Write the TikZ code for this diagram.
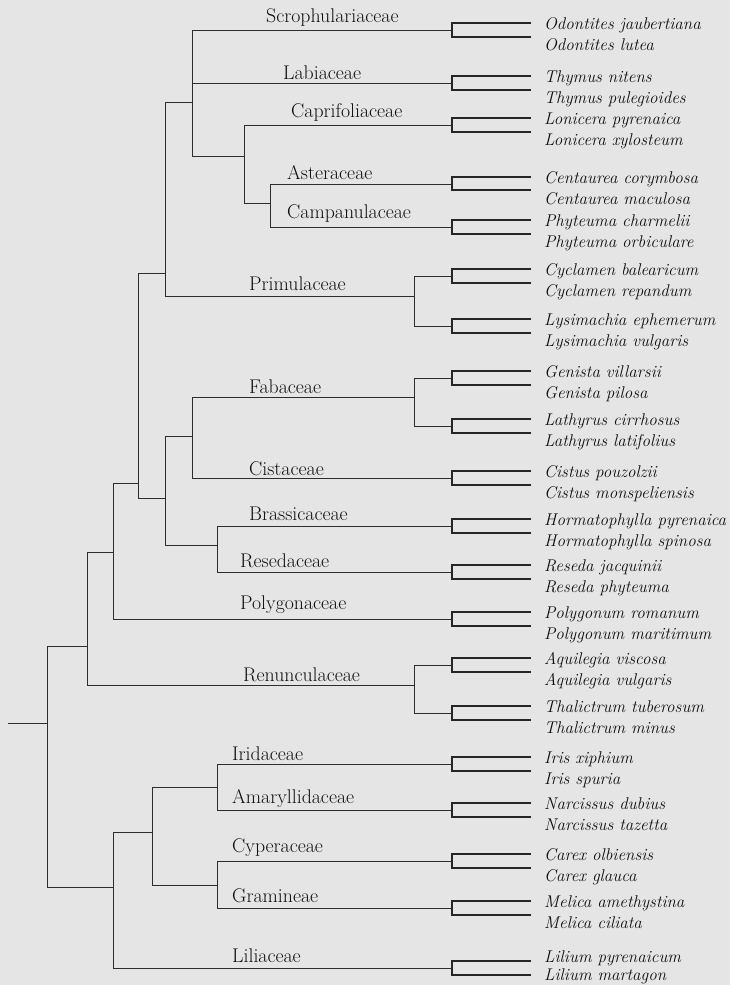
\documentclass[tikz,border=0pt]{standalone}
\definecolor{bg}{RGB}{229,229,229}
\definecolor{ln}{RGB}{45,45,45}
\definecolor{tx}{RGB}{15,15,15}
\tikzset{
  tree/.style={draw=ln, line width=0.9pt},
  leafline/.style={draw=ln!85!black, line width=1.6pt},
  fam/.style={anchor=base west, inner sep=0pt, text=tx, font=\fontsize{19.8}{22}\selectfont},
  spec/.style={anchor=base west, inner sep=0pt, text=tx, font=\fontsize{17}{19}\selectfont\itshape},
}
\newcommand\lpairb[8]{%
  \coordinate (#1) at (452,#2);
  \coordinate (#1a) at (531,#3);
  \coordinate (#1b) at (531,#4);
  \draw[leafline] (#1a) -| (#1) |- (#1b);
  \node[spec] (#1ta) at (544,#7) {#5};
  \node[spec] (#1tb) at (544,#8) {#6};
}
\newcommand\lpair[6]{\lpairb{#1}{#2}{#3}{#4}{#5}{#6}{#2-1}{#2+20}}
\begin{document}
\begin{tikzpicture}[x=1pt,y=-1pt]
\fill[bg] (0,0) rectangle (730,985);
\useasboundingbox (0,0) rectangle (730,985);

% leaf pairs
\lpair{odo}{30}{23}{37}{Odontites jaubertiana}{Odontites lutea}
\lpair{thy}{83}{76}{90}{Thymus nitens}{Thymus pulegioides}
\lpair{lon}{125}{118}{132}{Lonicera pyrenaica}{Lonicera xylosteum}
\lpair{cen}{184}{177}{190}{Centaurea corymbosa}{Centaurea maculosa}
\lpair{phy}{227}{220}{234}{Phyteuma charmelii}{Phyteuma orbiculare}
\lpair{cyc}{276}{269}{283}{Cyclamen balearicum}{Cyclamen repandum}
\lpair{lys}{326}{319}{333}{Lysimachia ephemerum}{Lysimachia vulgaris}
\lpair{gen}{378}{371}{385}{Genista villarsii}{Genista pilosa}
\lpair{lat}{426}{419}{433}{Lathyrus cirrhosus}{Lathyrus latifolius}
\lpair{cis}{478}{471}{485}{Cistus pouzolzii}{Cistus monspeliensis}
\lpair{hor}{526}{519}{533}{Hormatophylla pyrenaica}{Hormatophylla spinosa}
\lpair{res}{572}{565}{579}{Reseda jacquinii}{Reseda phyteuma}
\lpair{pol}{619}{612}{626}{Polygonum romanum}{Polygonum maritimum}
\lpair{aqu}{665}{658}{672}{Aquilegia viscosa}{Aquilegia vulgaris}
\lpair{tha}{713}{706}{720}{Thalictrum tuberosum}{Thalictrum minus}
\lpair{iri}{764}{757}{771}{Iris xiphium}{Iris spuria}
\lpair{nar}{810}{803}{817}{Narcissus dubius}{Narcissus tazetta}
\lpair{car}{861}{854}{868}{Carex olbiensis}{Carex glauca}
\lpair{mel}{908}{901}{915}{Melica amethystina}{Melica ciliata}
\lpairb{lil}{968}{961}{975}{Lilium pyrenaicum}{Lilium martagon}{962}{980}

% internal nodes
\coordinate (stub) at (8,723);
\coordinate (root) at (47,723);
\coordinate (A) at (87,646);
\coordinate (B) at (113,552);
\coordinate (C) at (138,483);
\coordinate (D) at (165,273);
\coordinate (E) at (192,102);
\coordinate (F) at (244,156);
\coordinate (G) at (270,203);
\coordinate (H) at (414,296);
\coordinate (I) at (165,498);
\coordinate (J) at (192,436);
\coordinate (K) at (414,397);
\coordinate (L) at (217,545);
\coordinate (M) at (414,685);
\coordinate (N) at (113,887);
\coordinate (O) at (152,832);
\coordinate (P) at (217,787);
\coordinate (Q) at (217,885);

% connectors
\draw[tree] (stub) -- (root);
\draw[tree] (root) |- (A);
\draw[tree] (root) |- (N);
\draw[tree] (A) |- (B);
\draw[tree] (A) |- (M);
\draw[tree] (B) |- (C);
\draw[tree] (B) |- (pol);
\draw[tree] (C) |- (D);
\draw[tree] (C) |- (I);
\draw[tree] (D) |- (E);
\draw[tree] (D) |- (H);
\draw[tree] (E) |- (odo);
\draw[tree] (E) |- (thy);
\draw[tree] (E) |- (F);
\draw[tree] (F) |- (lon);
\draw[tree] (F) |- (G);
\draw[tree] (G) |- (cen);
\draw[tree] (G) |- (phy);
\draw[tree] (H) |- (cyc);
\draw[tree] (H) |- (lys);
\draw[tree] (I) |- (J);
\draw[tree] (I) |- (L);
\draw[tree] (J) |- (K);
\draw[tree] (J) |- (cis);
\draw[tree] (K) |- (gen);
\draw[tree] (K) |- (lat);
\draw[tree] (L) |- (hor);
\draw[tree] (L) |- (res);
\draw[tree] (M) |- (aqu);
\draw[tree] (M) |- (tha);
\draw[tree] (N) |- (O);
\draw[tree] (N) |- (lil);
\draw[tree] (O) |- (P);
\draw[tree] (O) |- (Q);
\draw[tree] (P) |- (iri);
\draw[tree] (P) |- (nar);
\draw[tree] (Q) |- (car);
\draw[tree] (Q) |- (mel);

% family labels
\node[fam] (scr) at (266,22) {Scrophulariaceae};
\node[fam] (lab) at (283,79) {Labiaceae};
\node[fam] (cap) at (291,117) {Caprifoliaceae};
\node[fam] (ast) at (287,179) {Asteraceae};
\node[fam] (cam) at (287,218) {Campanulaceae};
\node[fam] (pri) at (249,290) {Primulaceae};
\node[fam] (fab) at (249,393) {Fabaceae};
\node[fam] (cst) at (249,475) {Cistaceae};
\node[fam] (bra) at (249,520) {Brassicaceae};
\node[fam] (rsd) at (240,567) {Resedaceae};
\node[fam] (plg) at (240,609) {Polygonaceae};
\node[fam] (ren) at (243,681) {Renunculaceae};
\node[fam] (ird) at (232,760) {Iridaceae};
\node[fam] (ama) at (232,803) {Amaryllidaceae};
\node[fam] (cyp) at (232,852) {Cyperaceae};
\node[fam] (gra) at (232,902) {Gramineae};
\node[fam] (lli) at (232,962) {Liliaceae};
\end{tikzpicture}
\end{document}
